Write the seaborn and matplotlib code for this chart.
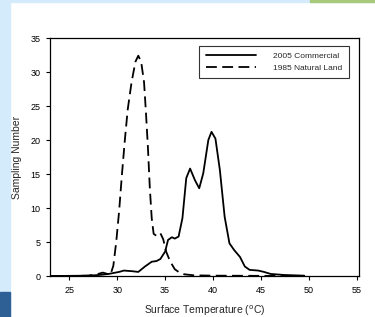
import matplotlib
matplotlib.use("Agg")
import matplotlib.pyplot as plt
import seaborn as sns
import pandas as pd
from matplotlib.patches import Rectangle

# Data
commercial_temp = [22.9, 25.0, 27.0, 28.1, 29.1, 30.2, 30.7, 31.6, 32.2, 32.9, 33.6, 34.1,
                   34.5, 35.0, 35.3, 35.7, 36.0, 36.4, 36.8, 37.2, 37.6, 38.1, 38.55,
                   38.97, 39.5, 39.83, 40.24, 40.7, 41.2, 41.7, 42.2, 42.8, 43.3, 43.8,
                   44.7, 45.3, 46.0, 47.4, 49.5]
commercial_count = [0.0, 0.02, 0.05, 0.15, 0.3, 0.6, 0.8, 0.7, 0.6, 1.4, 2.1, 2.2,
                    2.5, 3.6, 5.3, 5.7, 5.5, 5.8, 8.5, 14.4, 15.8, 14.1, 12.9,
                    15.1, 20.0, 21.2, 20.2, 15.6, 8.7, 4.8, 3.8, 2.8, 1.4, 0.9,
                    0.8, 0.6, 0.3, 0.15, 0.05]

natural_temp = [22.9, 25.0, 27.0, 28.0, 28.5, 29.0, 29.3, 29.6, 29.9, 30.2, 30.5, 30.8,
                31.1, 31.5, 31.9, 32.2, 32.5, 32.8, 33.0, 33.2, 33.4, 33.6, 33.8,
                34.1, 34.5, 34.8, 35.1, 35.5, 36.0, 36.5, 37.0, 38.0, 40.0, 45.0, 49.5]
natural_count = [0.0, 0.0, 0.05, 0.3, 0.5, 0.3, 0.2, 1.5, 5.0, 9.5, 15.0, 20.0,
                 24.5, 28.5, 31.5, 32.4, 31.5, 28.5, 24.0, 19.0, 13.0, 8.5, 6.2,
                 5.9, 6.3, 5.4, 3.6, 2.2, 1.0, 0.5, 0.25, 0.1, 0.05, 0.02, 0.0]

df = pd.concat([
    pd.DataFrame({"temp": commercial_temp, "count": commercial_count, "series": "2005 Commercial"}),
    pd.DataFrame({"temp": natural_temp, "count": natural_count, "series": "1985 Natural Land"}),
])

sns.set_style("ticks")
plt.rcParams["font.family"] = ["Liberation Sans", "DejaVu Sans"]

fig = plt.figure(figsize=(3.75, 3.17), dpi=100)

# slide background decorations
fig.patches.append(Rectangle((0, 0), 10 / 375, 1, transform=fig.transFigure,
                             color="#d4ebfb", zorder=0))
fig.patches.append(Rectangle((0, 0), 10 / 375, 25 / 317, transform=fig.transFigure,
                             color="#2e6096", zorder=0))
fig.patches.append(Rectangle((0, 1 - 2 / 317), 1, 2 / 317, transform=fig.transFigure,
                             color="#d4ebfb", zorder=0))
fig.patches.append(Rectangle((310 / 375, 1 - 2 / 317), 65 / 375, 2 / 317,
                             transform=fig.transFigure, color="#a8c97a", zorder=0))

ax = fig.add_axes([50 / 375, 1 - 276 / 317, 309 / 375, 238 / 317])
sns.lineplot(data=df, x="temp", y="count", style="series", color="black",
             dashes={"2005 Commercial": "", "1985 Natural Land": (6, 3)},
             linewidth=1.3, sort=False, ax=ax)

ax.set_xlim(23, 55.2)
ax.set_ylim(0, 35)
ax.set_xticks([25, 30, 35, 40, 45, 50, 55])
ax.set_yticks([0, 5, 10, 15, 20, 25, 30, 35])
ax.tick_params(labelsize=6.5, length=3, width=0.8, colors="black", pad=4)
for s in ax.spines.values():
    s.set_linewidth(0.9)
    s.set_color("black")
ax.set_xlabel("Surface Temperature ($^{\\rm o}$C)", fontsize=7.5, labelpad=6.5)
ax.set_ylabel("Sampling Number", fontsize=7.5, labelpad=6)

leg = ax.legend(loc="upper right", bbox_to_anchor=(0.98, 0.985), fontsize=6,
                handlelength=6.0, frameon=True, fancybox=False, edgecolor="black",
                borderpad=0.8, labelspacing=0.45, handletextpad=2.0,
                borderaxespad=0.5)
leg.get_frame().set_linewidth(0.8)
for line in leg.get_lines():
    line.set_linewidth(1.3)

fig.savefig("out.png", dpi=100)
